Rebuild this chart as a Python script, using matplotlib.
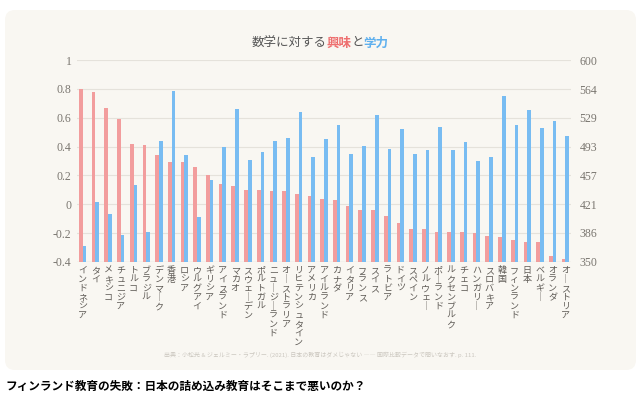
import numpy as np
import matplotlib.pyplot as plt
from matplotlib.patches import FancyBboxPatch
from matplotlib.transforms import IdentityTransform

plt.rcParams['font.family'] = ['Noto Sans CJK JP', 'DejaVu Sans']

countries = ['インドネシア', 'タイ', 'メキシコ', 'チュニジア', 'トルコ', 'ブラジル', 'デンマーク',
             '香港', 'ロシア', 'ウルグアイ', 'ギリシア', 'アイスランド', 'マカオ', 'スウェーデン',
             'ポルトガル', 'ニュージーランド', 'オーストラリア', 'リヒテンシュタイン', 'アメリカ',
             'アイルランド', 'カナダ', 'イタリア', 'フランス', 'スイス', 'ラトビア', 'ドイツ',
             'スペイン', 'ノルウェー', 'ポーランド', 'ルクセンブルク', 'チェコ', 'ハンガリー',
             'スロバキア', '韓国', 'フィンランド', '日本', 'ベルギー', 'オランダ', 'オーストリア']
interest = [0.80, 0.78, 0.67, 0.59, 0.42, 0.41, 0.34, 0.29, 0.29, 0.26,
            0.20, 0.14, 0.13, 0.10, 0.10, 0.09, 0.09, 0.07, 0.06, 0.04,
            0.03, -0.01, -0.04, -0.04, -0.08, -0.13, -0.17, -0.17, -0.19, -0.19,
            -0.19, -0.20, -0.22, -0.23, -0.25, -0.26, -0.26, -0.36, -0.38]
score = [370, 424, 410, 383, 445, 387, 500, 562, 482, 406,
         451, 492, 539, 476, 486, 500, 504, 536, 480, 502,
         519, 484, 494, 532, 490, 514, 484, 488, 517, 488,
         498, 475, 480, 556, 519, 538, 516, 524, 506]
left_ticks = [-0.4, -0.2, 0, 0.2, 0.4, 0.6, 0.8, 1]
left_labels = ['-0.4', '-0.2', '0', '0.2', '0.4', '0.6', '0.8', '1']
right_ticks = [350, 386, 421, 457, 493, 529, 564, 600]

red = '#f29d9d'
blue = '#78bcf2'
grey = '#7a7670'

fig = plt.figure(figsize=(6.4, 3.99), dpi=100)
fig.patch.set_facecolor('white')
panel = FancyBboxPatch((5, 29), 631, 360, boxstyle='round,pad=0,rounding_size=10',
                       transform=IdentityTransform(), facecolor='#f9f7f2',
                       edgecolor='none', zorder=-5)
fig.patches.append(panel)

ax = fig.add_axes([0.1203, 0.3434, 0.772, 0.5062])
ax.set_facecolor('none')
ax2 = ax.twinx()

x = np.arange(len(countries))
w = 0.29
ax.bar(x - w / 2, np.array(interest) + 0.4, bottom=-0.4, width=w, color=red, zorder=3)
ax2.bar(x + w / 2, np.array(score) - 350, bottom=350, width=w, color=blue, zorder=3)

ax.set_ylim(-0.4, 1)
ax2.set_ylim(350, 600)
ax.set_xlim(-0.45, len(countries) - 0.55)

ax.set_yticks(left_ticks)
ax.set_yticklabels(left_labels, fontfamily='Liberation Serif', fontsize=8.5, color=grey)
ax2.set_yticks(right_ticks)
ax2.set_yticklabels([str(t) for t in right_ticks], fontfamily='Liberation Serif',
                    fontsize=8.5, color=grey)
ax.tick_params(axis='y', length=0, pad=4)
ax2.tick_params(axis='y', length=0, pad=6)
ax.grid(axis='y', color='#e5e2db', lw=0.8, zorder=0)

for a in (ax, ax2):
    for s in a.spines.values():
        s.set_visible(False)
ax.axhline(-0.4, color='#b5b1aa', lw=0.8, zorder=4)

ax.set_xticks(x)
ax.set_xticklabels(['\n'.join(c.replace('ー', '｜')) for c in countries],
                   fontsize=6.5, color='#5f5b56', linespacing=1.0)
ax.tick_params(axis='x', length=0, pad=3)

# title with coloured words
parts = [('数学に対する', '#555555', 'normal'), ('興味', '#ee6f6f', 'bold'),
         ('と', '#555555', 'normal'), ('学力', '#5fb0ee', 'bold')]
fig.canvas.draw()
r = fig.canvas.get_renderer()
texts = []
widths = []
for s, c, fw in parts:
    t = fig.text(0, (399 - 43) / 399, s, color=c, fontsize=9, fontweight=fw, va='center')
    texts.append(t)
    widths.append(t.get_window_extent(r).width)
x0 = 320 - sum(widths) / 2
for t, wd in zip(texts, widths):
    t.set_x(x0 / 640)
    x0 += wd

fig.text(0.5, (399 - 355) / 399,
         '出典：小松光 & ジェルミー・ラプリー. (2021). 日本の教育はダメじゃない ―― 国際比較データで問いなおす. p. 111.',
         fontsize=4.3, color='#cbc7bf', ha='center', va='center')

fig.text(5 / 640, (399 - 386) / 399, 'フィンランド教育の失敗：日本の詰め込み教育はそこまで悪いのか？',
         fontsize=8.4, fontweight='bold', color='black', va='center')

fig.savefig('out.png', dpi=100)
